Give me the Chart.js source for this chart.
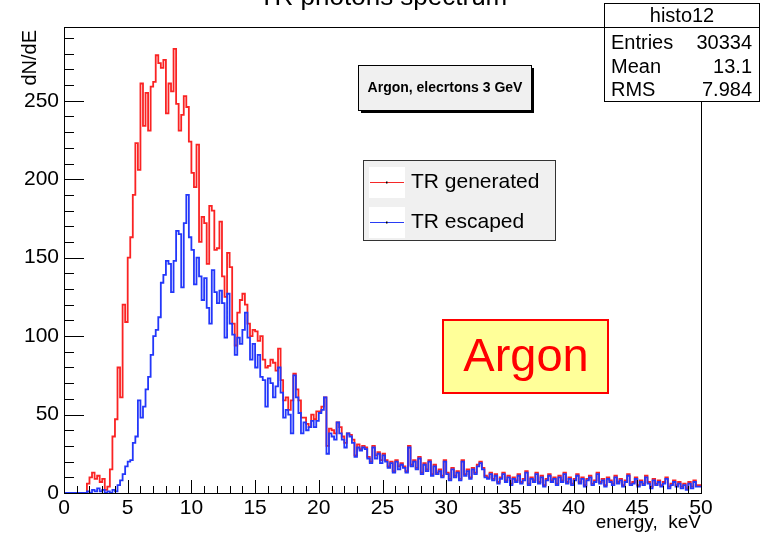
<!DOCTYPE html>
<html>
<head>
<meta charset="utf-8">
<script src="https://cdn.jsdelivr.net/npm/chart.js@4/dist/chart.umd.min.js"></script>
<style>
html,body{margin:0;padding:0;background:#fff;}
#wrap{width:762px;height:536px;position:relative;}
</style>
</head>
<body>
<div id="wrap"><canvas id="c" width="762" height="536"></canvas></div>
<script>
// ---- data ----
const binWidth = 0.2;           // keV per bin, 250 bins over 0..50 keV
const xRange = [0, 50];
const yRange = [0, 297];
const xTickLabels = [0, 5, 10, 15, 20, 25, 30, 35, 40, 45, 50];
const yTickLabels = [0, 50, 100, 150, 200, 250];

const generated = [
  0,0,0,0,0,0,0,0,0,0,
  6,10,13,9,11,7,9,2,4,15,
  36,47,80,61,120,109,150,163,190,223,
  206,261,234,255,231,259,262,279,274,271,
  276,242,261,256,283,248,231,241,253,246,
  224,204,195,222,160,176,172,146,183,180,
  155,156,173,138,125,153,144,108,94,115,
  123,127,120,108,100,104,103,97,100,85,
  80,81,85,83,78,92,72,59,61,53,
  59,76,66,59,48,48,44,42,50,47,
  52,52,55,61,30,41,40,38,45,42,
  36,32,38,37,34,24,31,28,30,29,
  23,20,30,24,26,21,25,21,17,20,
  14,21,17,19,17,14,30,18,21,16,
  23,13,19,15,21,12,18,13,15,11,
  21,13,9,16,11,14,9,21,12,15,
  10,16,13,18,20,16,11,10,13,9,
  12,7,10,13,8,11,6,10,8,12,
  7,9,14,6,10,8,13,7,11,5,
  9,12,8,10,6,11,8,13,7,10,
  6,9,12,7,10,5,9,11,6,8,
  13,7,9,5,10,8,6,11,7,9,
  5,8,12,6,7,10,5,8,6,11,
  7,4,9,6,8,5,7,10,4,6,
  8,5,7,4,6,3,7,4,8,5
];

const escaped = [
  0,0,0,0,0,0,0,0,0,0,
  1,0,2,1,3,1,2,0,1,0,
  2,1,5,8,12,17,20,21,32,36,
  59,48,55,66,74,88,100,104,112,134,
  139,148,146,128,148,167,165,131,172,190,
  163,155,133,150,138,123,137,118,108,142,
  128,121,129,121,99,127,108,101,88,99,
  95,104,115,99,85,95,80,88,74,72,
  55,73,70,61,68,80,64,48,53,50,
  38,75,61,51,38,45,40,42,46,42,
  46,51,53,61,25,38,36,34,45,38,
  34,29,38,36,32,23,29,27,29,28,
  22,19,29,22,25,19,24,20,16,19,
  13,20,15,18,16,13,29,17,20,15,
  22,12,18,14,20,11,17,12,14,10,
  20,12,8,15,10,13,8,20,11,14,
  9,15,12,17,19,15,10,9,12,8,
  11,6,9,12,7,10,5,9,7,11,
  6,8,13,5,9,7,12,6,10,4,
  8,11,7,9,5,10,7,12,6,9,
  5,8,11,6,9,4,8,10,5,7,
  12,6,8,4,9,7,5,10,6,8,
  4,7,11,5,6,9,4,7,5,10,
  6,3,8,5,7,4,6,9,3,5,
  7,4,6,3,5,2,6,3,7,4
];

function toSteps(vals){
  const pts = vals.map((v,i)=>({x:i*binWidth, y:v}));
  pts.push({x:vals.length*binWidth, y:vals[vals.length-1]});
  return pts;
}

const FONT = '"Liberation Sans", Arial, Helvetica, sans-serif';

const decor = {
  id:'decor',
  afterDraw(chart){
    const ctx = chart.ctx;
    const xs = chart.scales.x, ys = chart.scales.y;
    const a = chart.chartArea;
    ctx.save();
    // frame
    ctx.strokeStyle = '#000'; ctx.lineWidth = 1;
    ctx.strokeRect(Math.round(a.left)+0.5, Math.round(a.top)+0.5, Math.round(a.right-a.left), Math.round(a.bottom-a.top));
    // y ticks
    ctx.beginPath();
    for(let v=0; v<=yRange[1]; v+=10){
      const y = Math.round(ys.getPixelForValue(v))+0.5;
      const len = (v%50===0)?20:10;
      ctx.moveTo(a.left, y); ctx.lineTo(a.left+len, y);
    }
    // x ticks
    for(let v=xRange[0]; v<=xRange[1]; v+=1){
      const x = Math.round(xs.getPixelForValue(v))+0.5;
      const len = (v%5===0)?13:7;
      ctx.moveTo(x, a.bottom); ctx.lineTo(x, a.bottom-len);
    }
    ctx.stroke();
    // tick labels
    ctx.fillStyle = '#000';
    ctx.font = '21px ' + FONT;
    ctx.textAlign = 'right'; ctx.textBaseline = 'middle';
    yTickLabels.forEach(v=>{ ctx.fillText(String(v), a.left-5, ys.getPixelForValue(v)); });
    ctx.textAlign = 'center'; ctx.textBaseline = 'middle';
    xTickLabels.forEach(v=>{ ctx.fillText(String(v), xs.getPixelForValue(v), a.bottom+15); });
    // axis titles
    ctx.font = '19px ' + FONT;
    ctx.textAlign = 'right'; ctx.textBaseline = 'middle';
    ctx.fillText('energy,  keV', a.right, 523);
    ctx.save();
    ctx.translate(30, a.top+3); ctx.rotate(-Math.PI/2);
    ctx.textAlign = 'right'; ctx.textBaseline = 'middle';
    ctx.font = '20px ' + FONT;
    ctx.fillText('dN/dE', 0, 0);
    ctx.restore();
    // title (cut off at top)
    ctx.font = '26px ' + FONT;
    ctx.textAlign = 'center'; ctx.textBaseline = 'alphabetic';
    ctx.fillText('TR photons spectrum', 383, 5);
    // stats box
    ctx.fillStyle = '#fff';
    ctx.fillRect(604.5, 3.5, 155, 98);
    ctx.strokeStyle = '#000';
    ctx.strokeRect(604.5, 3.5, 155, 98);
    ctx.beginPath(); ctx.moveTo(604.5, 27.5); ctx.lineTo(759.5, 27.5); ctx.stroke();
    ctx.fillStyle = '#000';
    ctx.font = '20px ' + FONT;
    ctx.textAlign = 'center'; ctx.textBaseline = 'middle';
    ctx.fillText('histo12', 682, 16);
    const rows = [['Entries','30334',43],['Mean','13.1',67],['RMS','7.984',90]];
    rows.forEach(r=>{
      ctx.textAlign='left'; ctx.fillText(r[0], 611, r[2]);
      ctx.textAlign='right'; ctx.fillText(r[1], 752, r[2]);
    });
    // text box with shadow
    ctx.fillStyle = '#000';
    ctx.fillRect(361, 68, 173, 45);
    ctx.fillStyle = '#f0f0f0';
    ctx.fillRect(358.5, 65.5, 173, 45);
    ctx.strokeStyle = '#000';
    ctx.strokeRect(358.5, 65.5, 173, 45);
    ctx.fillStyle = '#000';
    ctx.font = 'bold 14px ' + FONT;
    ctx.textAlign = 'center'; ctx.textBaseline = 'middle';
    ctx.fillText('Argon, elecrtons 3 GeV', 445, 88);
    // legend
    ctx.fillStyle = '#f0f0f0';
    ctx.fillRect(363.5, 160.5, 192, 80);
    ctx.strokeStyle = '#333';
    ctx.strokeRect(363.5, 160.5, 192, 80);
    const leg = [['TR generated','rgb(245,40,40)',182],['TR escaped','rgb(40,60,245)',222]];
    leg.forEach(l=>{
      ctx.fillStyle = '#fff';
      ctx.fillRect(369, l[2]-15, 36, 31);
      ctx.strokeStyle = l[1]; ctx.lineWidth = 1.2;
      ctx.beginPath(); ctx.moveTo(370, l[2]+0.5); ctx.lineTo(404, l[2]+0.5); ctx.stroke();
      ctx.fillStyle = '#000';
      ctx.fillRect(386, l[2]-0.5, 1.5, 2);
      ctx.font = '21px ' + FONT;
      ctx.textAlign = 'left'; ctx.textBaseline = 'middle';
      ctx.fillText(l[0], 411, l[2]);
    });
    // Argon box
    ctx.fillStyle = '#ffff99';
    ctx.fillRect(443, 320, 165, 73);
    ctx.strokeStyle = '#ff0000'; ctx.lineWidth = 2;
    ctx.strokeRect(443, 320, 165, 73);
    ctx.fillStyle = '#ff0000';
    ctx.font = '47px ' + FONT;
    ctx.textAlign = 'center'; ctx.textBaseline = 'middle';
    ctx.fillText('Argon', 526, 358);
    ctx.restore();
  }
};

new Chart(document.getElementById('c'), {
  type: 'line',
  data: {
    datasets: [
      { label:'TR escaped', data: toSteps(escaped), stepped:'after', borderColor:'rgb(35,55,250)', borderWidth:1.8, pointRadius:0, fill:false, order:1 },
      { label:'TR generated', data: toSteps(generated), stepped:'after', borderColor:'rgb(250,35,35)', borderWidth:1.8, pointRadius:0, fill:false, order:2 }
    ]
  },
  options: {
    responsive:false, animation:false, devicePixelRatio:1,
    layout:{ padding:{ left:64, right:61, top:27, bottom:43 } },
    plugins:{ legend:{display:false}, tooltip:{enabled:false}, title:{display:false} },
    scales:{
      x:{ type:'linear', min:xRange[0], max:xRange[1], display:false },
      y:{ type:'linear', min:yRange[0], max:yRange[1], display:false }
    }
  },
  plugins:[decor]
});
</script>
</body>
</html>
